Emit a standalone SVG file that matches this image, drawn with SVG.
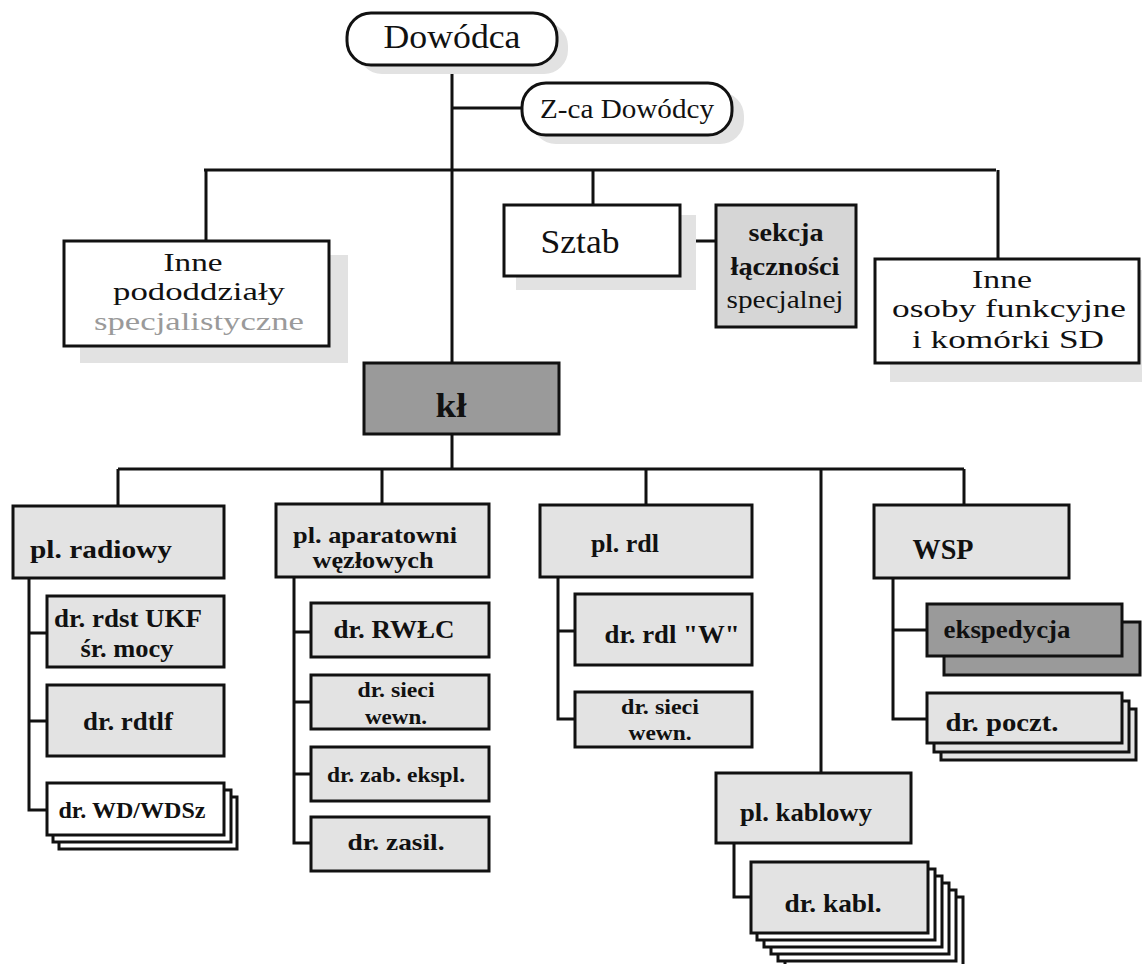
<svg xmlns="http://www.w3.org/2000/svg" width="1142" height="964" viewBox="0 0 1142 964">
<style>
.ln{stroke:#111;stroke-width:3;fill:none}
.bx{stroke:#111;stroke-width:3}
.w{fill:#fff}
.lg{fill:#e3e3e3}
.md{fill:#d6d6d6}
.dk{fill:#9a9a9a}
.sh{fill:#e2e2e2;stroke:none}
text{font-family:'Liberation Serif','Times New Roman',serif;fill:#111;text-anchor:middle}
.b{font-weight:bold}
</style>
<rect width="1142" height="964" fill="#fff"/>
<g id="connectors">
<path class="ln" d="M452 65V363M452 108H523M204 170H996M206 170V241M593 170V205M998 170V259M680 241H716"/>
<path class="ln" d="M452 434V469M118 469H964M118 469V506M382 469V504M646 469V505M821 469V773M964 469V505"/>
<path class="ln" d="M29 578V810H47M29 633H47M29 721H47"/>
<path class="ln" d="M294 577V843H311M294 632H311M294 702H311M294 774H311"/>
<path class="ln" d="M558 577V719H575M558 631H575"/>
<path class="ln" d="M893 578V719H927M893 630H927"/>
<path class="ln" d="M734 843V897H751"/>
</g>
<g id="dowodca">
<rect class="sh" x="358" y="22" width="210" height="52" rx="24"/>
<rect class="bx w" x="347" y="13" width="210" height="52" rx="24"/>
<text x="452" y="48" font-size="33" textLength="137" lengthAdjust="spacingAndGlyphs">Dowódca</text>
</g>
<g id="zca">
<rect class="sh" x="532" y="92" width="212" height="52" rx="24"/>
<rect class="bx w" x="522" y="83" width="210" height="52" rx="24"/>
<text x="627" y="118" font-size="27" textLength="174" lengthAdjust="spacingAndGlyphs">Z-ca Dowódcy</text>
</g>
<g id="inne-pododdzialy">
<rect class="sh" x="80" y="255" width="268" height="108"/>
<rect class="bx w" x="64" y="241" width="265" height="105"/>
<text x="193" y="271" font-size="26" textLength="59" lengthAdjust="spacingAndGlyphs">Inne</text>
<text x="199" y="300" font-size="26" textLength="172" lengthAdjust="spacingAndGlyphs">pododdziały</text>
<text x="199" y="330" font-size="26" textLength="210" lengthAdjust="spacingAndGlyphs" style="fill:#9a9a9a">specjalistyczne</text>
</g>
<g id="sztab">
<rect class="sh" x="516" y="215" width="180" height="75"/>
<rect class="bx w" x="504" y="205" width="176" height="71"/>
<text x="580" y="253" font-size="33" textLength="79" lengthAdjust="spacingAndGlyphs">Sztab</text>
</g>
<g id="sekcja">
<rect class="bx md" x="716" y="205" width="140" height="122"/>
<text class="b" x="786" y="241" font-size="25" textLength="75" lengthAdjust="spacingAndGlyphs">sekcja</text>
<text class="b" x="785" y="275" font-size="25" textLength="109" lengthAdjust="spacingAndGlyphs">łączności</text>
<text x="785" y="308" font-size="25" textLength="117" lengthAdjust="spacingAndGlyphs">specjalnej</text>
</g>
<g id="inne-osoby">
<rect class="sh" x="890" y="270" width="252" height="112"/>
<rect class="bx w" x="875" y="259" width="264" height="104"/>
<text x="1002" y="288" font-size="26" textLength="60" lengthAdjust="spacingAndGlyphs">Inne</text>
<text x="1009" y="317" font-size="26" textLength="234" lengthAdjust="spacingAndGlyphs">osoby funkcyjne</text>
<text x="1008" y="348" font-size="26" textLength="192" lengthAdjust="spacingAndGlyphs">i komórki SD</text>
</g>
<g id="kl">
<rect class="bx dk" x="364" y="363" width="195" height="71"/>
<text class="b" x="451" y="417" font-size="34" textLength="31" lengthAdjust="spacingAndGlyphs">kł</text>
</g>
<g id="pl-radiowy">
<rect class="bx lg" x="13" y="506" width="211" height="72"/>
<text class="b" x="101" y="558" font-size="26" textLength="142" lengthAdjust="spacingAndGlyphs">pl. radiowy</text>
</g>
<g id="dr-rdst">
<rect class="bx lg" x="47" y="596" width="177" height="71"/>
<text class="b" x="128" y="627" font-size="25" textLength="148" lengthAdjust="spacingAndGlyphs">dr. rdst UKF</text>
<text class="b" x="127" y="657" font-size="25" textLength="93" lengthAdjust="spacingAndGlyphs">śr. mocy</text>
</g>
<g id="dr-rdtlf">
<rect class="bx lg" x="47" y="685" width="177" height="71"/>
<text class="b" x="128" y="730" font-size="25" textLength="90" lengthAdjust="spacingAndGlyphs">dr. rdtlf</text>
</g>
<g id="dr-wd">
<rect class="bx w" x="59" y="797" width="178" height="52"/>
<rect class="bx w" x="53" y="790" width="178" height="52"/>
<rect class="bx w" x="47" y="783" width="177" height="52"/>
<text class="b" x="132" y="818" font-size="24" textLength="147" lengthAdjust="spacingAndGlyphs">dr. WD/WDSz</text>
</g>
<g id="pl-aparatowni">
<rect class="bx lg" x="276" y="504" width="213" height="73"/>
<text class="b" x="375" y="543" font-size="24" textLength="164" lengthAdjust="spacingAndGlyphs">pl. aparatowni</text>
<text class="b" x="373" y="568" font-size="24" textLength="121" lengthAdjust="spacingAndGlyphs">węzłowych</text>
</g>
<g id="dr-rwlc">
<rect class="bx lg" x="311" y="603" width="178" height="54"/>
<text class="b" x="394" y="638" font-size="26" textLength="121" lengthAdjust="spacingAndGlyphs">dr. RWŁC</text>
</g>
<g id="dr-sieci-1">
<rect class="bx lg" x="311" y="675" width="178" height="54"/>
<text class="b" x="396" y="697" font-size="21" textLength="77" lengthAdjust="spacingAndGlyphs">dr. sieci</text>
<text class="b" x="396" y="724" font-size="21" textLength="62" lengthAdjust="spacingAndGlyphs">wewn.</text>
</g>
<g id="dr-zab">
<rect class="bx lg" x="311" y="747" width="178" height="54"/>
<text class="b" x="396" y="782" font-size="22" textLength="138" lengthAdjust="spacingAndGlyphs">dr. zab. ekspl.</text>
</g>
<g id="dr-zasil">
<rect class="bx lg" x="311" y="817" width="178" height="54"/>
<text class="b" x="396" y="850" font-size="24" textLength="97" lengthAdjust="spacingAndGlyphs">dr. zasil.</text>
</g>
<g id="pl-rdl">
<rect class="bx lg" x="540" y="505" width="212" height="72"/>
<text class="b" x="625" y="552" font-size="25" textLength="68" lengthAdjust="spacingAndGlyphs">pl. rdl</text>
</g>
<g id="dr-rdl-w">
<rect class="bx lg" x="575" y="594" width="177" height="71"/>
<text class="b" x="672" y="643" font-size="26" textLength="135" lengthAdjust="spacingAndGlyphs">dr. rdl "W"</text>
</g>
<g id="dr-sieci-2">
<rect class="bx lg" x="575" y="692" width="177" height="55"/>
<text class="b" x="660" y="714" font-size="21" textLength="78" lengthAdjust="spacingAndGlyphs">dr. sieci</text>
<text class="b" x="660" y="740" font-size="21" textLength="63" lengthAdjust="spacingAndGlyphs">wewn.</text>
</g>
<g id="wsp">
<rect class="bx lg" x="874" y="505" width="195" height="73"/>
<text class="b" x="943" y="559" font-size="30" textLength="61" lengthAdjust="spacingAndGlyphs">WSP</text>
</g>
<g id="ekspedycja">
<rect class="bx dk" x="944" y="622" width="196" height="53"/>
<rect class="bx dk" x="927" y="604" width="195" height="52"/>
<text class="b" x="1007" y="638" font-size="26" textLength="127" lengthAdjust="spacingAndGlyphs">ekspedycja</text>
</g>
<g id="dr-poczt">
<rect class="bx lg" x="941" y="709" width="195" height="51"/>
<rect class="bx lg" x="934" y="701" width="195" height="51"/>
<rect class="bx lg" x="927" y="693" width="195" height="50"/>
<text class="b" x="1002" y="731" font-size="26" textLength="113" lengthAdjust="spacingAndGlyphs">dr. poczt.</text>
</g>
<g id="pl-kablowy">
<rect class="bx lg" x="716" y="773" width="195" height="70"/>
<text class="b" x="806" y="821" font-size="25" textLength="132" lengthAdjust="spacingAndGlyphs">pl. kablowy</text>
</g>
<g id="dr-kabl">
<rect class="bx w" x="785" y="897" width="178" height="71"/>
<rect class="bx w" x="778" y="890" width="178" height="71"/>
<rect class="bx w" x="771" y="883" width="178" height="71"/>
<rect class="bx w" x="764" y="876" width="178" height="71"/>
<rect class="bx w" x="757" y="869" width="178" height="71"/>
<rect class="bx lg" x="751" y="862" width="177" height="71"/>
<text class="b" x="833" y="912" font-size="26" textLength="97" lengthAdjust="spacingAndGlyphs">dr. kabl.</text>
</g>
</svg>
